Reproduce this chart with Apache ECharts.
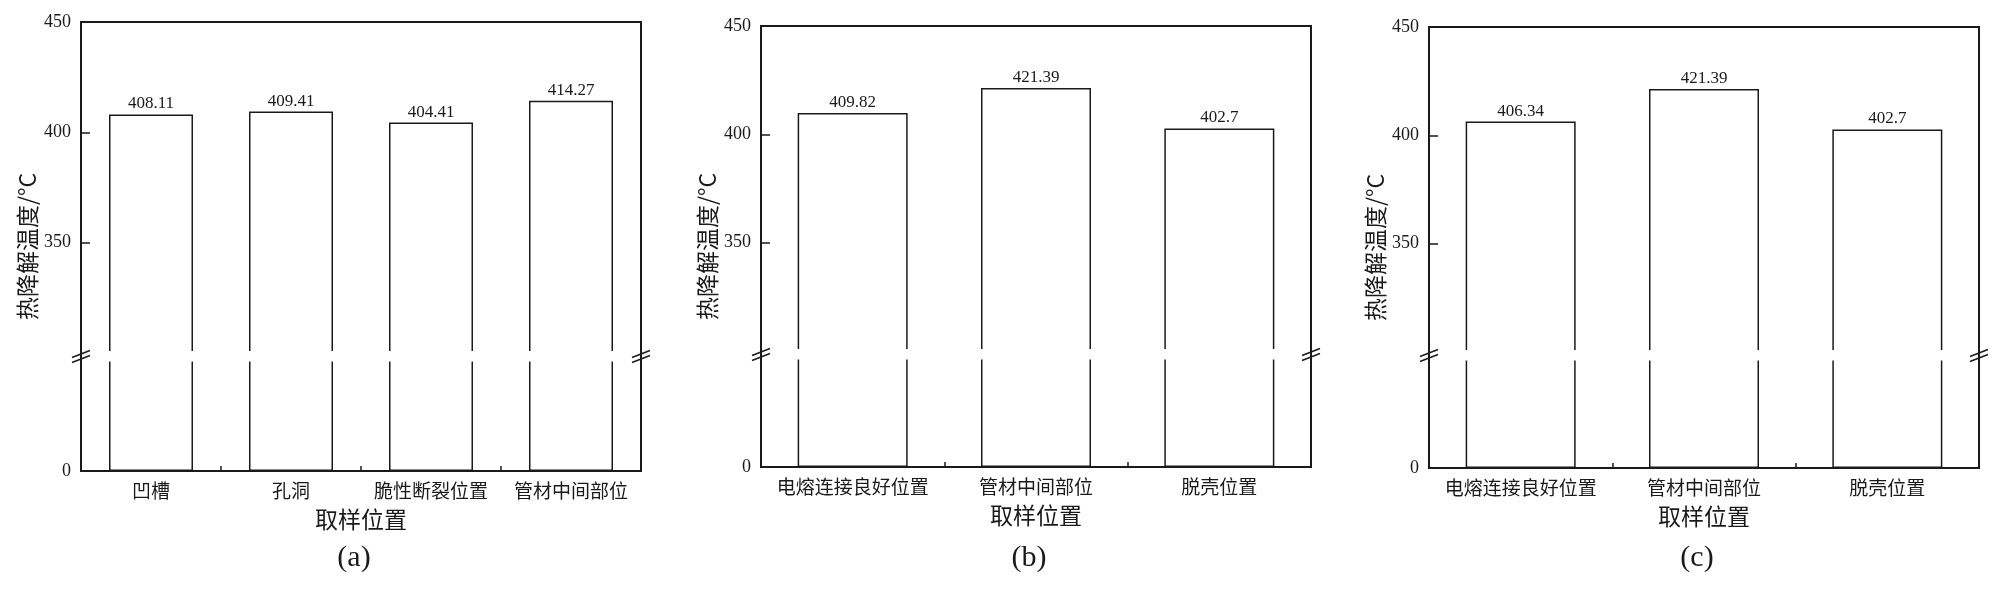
<!DOCTYPE html>
<html>
<head>
<meta charset="utf-8">
<title>热降解温度</title>
<script src="https://cdn.jsdelivr.net/npm/echarts@6.0.0/dist/echarts.min.js"></script>
<style>
  html, body { margin: 0; padding: 0; background: #fff; }
  #chart { width: 2000px; height: 592px; }
</style>
</head>
<body>
<div id="chart"></div>
<script>
// 数据
const catsA = ['凹槽', '孔洞', '脆性断裂位置', '管材中间部位']
const valsA = [408.11, 409.41, 404.41, 414.27]
const catsB = ['电熔连接良好位置', '管材中间部位', '脱壳位置']
const valsB = [409.82, 421.39, 402.7]
const catsC = ['电熔连接良好位置', '管材中间部位', '脱壳位置']
const valsC = [406.34, 421.39, 402.7]
const upperTicks = [350, 400, 450]
const lowerTicks = [0]
const upperRange = [300, 450]
const lowerRange = [0, 50]
const tags = ['(a)', '(b)', '(c)']

const serif = '"Liberation Serif", "Times New Roman", serif'
const cjk = '"Noto Sans CJK SC", sans-serif'
const ink = '#1a1a1a'

// 每个子图的位置（像素），brk 为断轴处
const panels = [
  { cats: catsA, vals: valsA, tag: tags[0], l: 81, r: 641, t: 22, b: 471, brk: 356 },
  { cats: catsB, vals: valsB, tag: tags[1], l: 761, r: 1311, t: 26, b: 467, brk: 354 },
  { cats: catsC, vals: valsC, tag: tags[2], l: 1429, r: 1979, t: 27, b: 468, brk: 355 }
]

const barStyle = { color: '#fff', borderColor: ink, borderWidth: 1.5 }
const tickLine = { color: ink, width: 1.5 }

const grid = []
const xAxis = []
const yAxis = []
const series = []
const graphic = []

panels.forEach(function (p, i) {
  const w = p.r - p.l
  const g = i * 3

  // 外框
  grid.push({ left: p.l, top: p.t, width: w, height: p.b - p.t, show: true, borderColor: ink, borderWidth: 2, backgroundColor: 'transparent', outerBoundsMode: 'none' })
  // 上段 300-450
  grid.push({ left: p.l, top: p.t, width: w, height: p.brk - 3 - p.t, outerBoundsMode: 'none' })
  // 下段 0-50
  grid.push({ left: p.l, top: p.brk + 4, width: w, height: p.b - p.brk - 4, outerBoundsMode: 'none' })

  xAxis.push({
    gridIndex: g,
    type: 'category',
    data: p.cats,
    axisLine: { show: false },
    axisLabel: { show: false },
    axisTick: { show: true, inside: true, length: 5, lineStyle: tickLine },
    splitLine: { show: false }
  })
  xAxis.push({ gridIndex: g + 1, type: 'category', data: p.cats, show: false })
  xAxis.push({
    gridIndex: g + 2,
    type: 'category',
    data: p.cats,
    axisLine: { show: false },
    axisTick: { show: true, inside: true, length: 10, alignWithLabel: true, lineStyle: tickLine },
    axisLabel: { interval: 0, margin: 10, fontFamily: cjk, fontSize: 19, color: ink },
    splitLine: { show: false },
    name: '取样位置',
    nameLocation: 'middle',
    nameGap: 37,
    nameTextStyle: { fontFamily: cjk, fontSize: 23, color: ink }
  })

  yAxis.push({
    gridIndex: g,
    type: 'value',
    min: 0,
    max: 1,
    axisLine: { show: false },
    axisTick: { show: false },
    axisLabel: { show: false },
    splitLine: { show: false },
    name: '热降解温度/°C',
    nameLocation: 'middle',
    nameGap: 42,
    nameTextStyle: { fontFamily: cjk, fontSize: 23, color: ink, padding: [0, 0, 0, 0] }
  })
  yAxis.push({
    gridIndex: g + 1,
    type: 'value',
    min: upperRange[0],
    max: upperRange[1],
    interval: 50,
    axisLine: { show: false },
    splitLine: { show: false },
    axisTick: { show: true, inside: true, length: 9, customValues: upperTicks, lineStyle: tickLine },
    axisLabel: { customValues: upperTicks, margin: 10, fontFamily: serif, fontSize: 18, color: ink }
  })
  yAxis.push({
    gridIndex: g + 2,
    type: 'value',
    min: lowerRange[0],
    max: lowerRange[1],
    interval: 50,
    axisLine: { show: false },
    splitLine: { show: false },
    axisTick: { show: false },
    axisLabel: { customValues: lowerTicks, margin: 10, fontFamily: serif, fontSize: 18, color: ink }
  })

  series.push({
    type: 'bar',
    xAxisIndex: g + 1,
    yAxisIndex: g + 1,
    data: p.vals,
    barCategoryGap: '40%',
    clip: true,
    itemStyle: barStyle,
    label: { show: true, position: 'top', distance: 2, fontFamily: serif, fontSize: 17, color: ink }
  })
  series.push({
    type: 'bar',
    xAxisIndex: g + 2,
    yAxisIndex: g + 2,
    data: p.vals,
    barCategoryGap: '40%',
    clip: true,
    itemStyle: barStyle
  })

  // 断轴处的白带
  graphic.push({
    type: 'rect',
    z: 50,
    shape: { x: p.l + 1.5, y: p.brk - 5, width: w - 3, height: 10.5 },
    style: { fill: '#fff' }
  })
  // 断轴符号 //
  ;[p.l, p.r].forEach(function (x) {
    graphic.push({ type: 'line', z: 60, shape: { x1: x - 9, y1: p.brk + 6.5, x2: x + 9, y2: p.brk - 0.5 }, style: { stroke: ink, lineWidth: 1.5 } })
    graphic.push({ type: 'line', z: 60, shape: { x1: x - 9, y1: p.brk + 1.5, x2: x + 9, y2: p.brk - 5.5 }, style: { stroke: ink, lineWidth: 1.5 } })
  })
  // 子图编号
  graphic.push({
    type: 'text',
    z: 60,
    x: (p.l + p.r) / 2 - 7,
    y: 558,
    style: { text: p.tag, fontFamily: serif, fontSize: 30, fill: ink, align: 'center', verticalAlign: 'middle', textAlign: 'center', textVerticalAlign: 'middle' }
  })
})

const chart = echarts.init(document.getElementById('chart'))
chart.setOption({
  animation: false,
  backgroundColor: '#fff',
  grid: grid,
  xAxis: xAxis,
  yAxis: yAxis,
  series: series,
  graphic: graphic
})
window.addEventListener('resize', chart.resize)
</script>
</body>
</html>
